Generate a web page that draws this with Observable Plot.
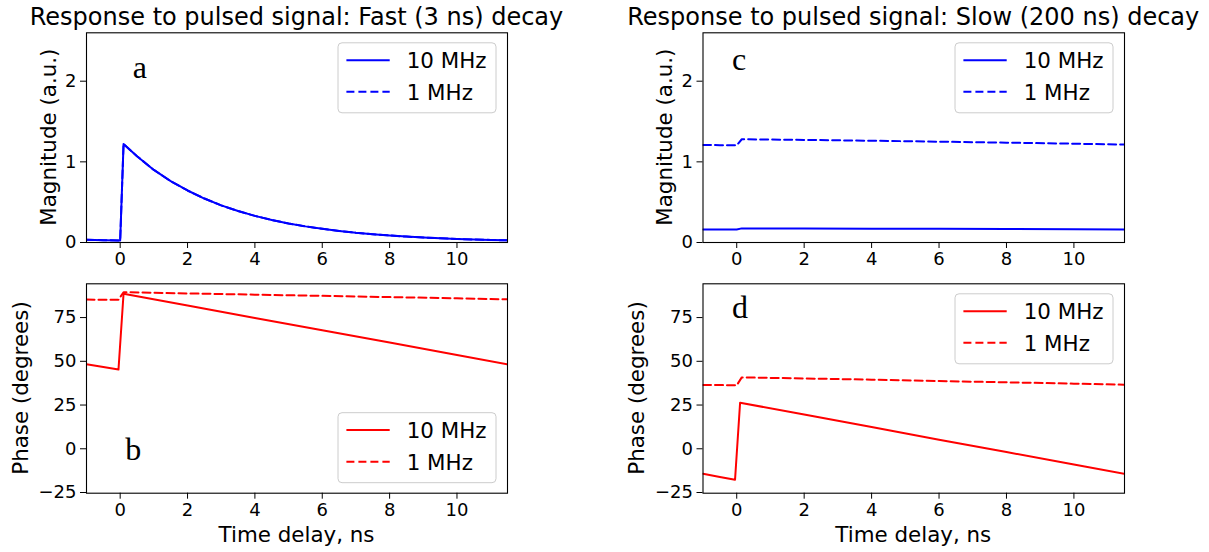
<!DOCTYPE html>
<html><head><meta charset="utf-8">
<script src="https://cdn.jsdelivr.net/npm/d3@7"></script>
<script src="https://cdn.jsdelivr.net/npm/@observablehq/plot@0.6"></script>
<style>
body{margin:0;background:#fff;}
#fig{position:relative;width:1209px;height:552px;overflow:hidden;background:#fff;}
#fig svg{position:absolute;}
</style></head><body><div id="fig"></div>
<script>
// ---- data ----
const xDomain = [-1, 11.5];
const xTicks = [0, 2, 4, 6, 8, 10];
const magDomain = [0, 2.6];
const magTicks = [0, 1, 2];
const phaseDomain = [-25.4, 94.3];
const phaseTicks = [-25, 0, 25, 50, 75];
const seriesNames = ["10 MHz", "1 MHz"];
const panelTitles = ["Response to pulsed signal: Fast (3 ns) decay", "Response to pulsed signal: Slow (200 ns) decay"];
const panelLetters = ["a", "b", "c", "d"];
const magLabel = "Magnitude (a.u.)";
const phaseLabel = "Phase (degrees)";
const timeLabel = "Time delay, ns";

// fast (3 ns) decay, magnitude
const fastTime = [-1, -0.5, 0, 0.1, 0.5, 1, 1.5, 2, 2.5, 3, 3.5, 4, 4.5, 5, 5.5, 6, 6.5, 7, 7.5, 8, 8.5, 9, 9.5, 10, 10.5, 11, 11.5];
const fastMag10 = [0.034, 0.029, 0.025, 1.22, 1.07, 0.90, 0.76, 0.645, 0.545, 0.46, 0.39, 0.33, 0.28, 0.235, 0.20, 0.17, 0.143, 0.12, 0.102, 0.087, 0.073, 0.062, 0.052, 0.044, 0.037, 0.032, 0.027];
const fastMag1 = [0.034, 0.029, 0.025, 1.22, 1.07, 0.90, 0.76, 0.645, 0.545, 0.46, 0.39, 0.33, 0.28, 0.235, 0.20, 0.17, 0.143, 0.12, 0.102, 0.087, 0.073, 0.062, 0.052, 0.044, 0.037, 0.032, 0.027];

// fast (3 ns) decay, phase
const phaseTime = [-1, -0.5, -0.05, 0.1, 2, 4, 6, 8, 10, 11.5];
const fastPhase10 = [48.3, 46.7, 45.3, 88.6, 81.9, 74.8, 67.8, 60.7, 53.6, 48.3];
const fastPhase1 = [85.3, 85.2, 85.2, 89.5, 88.8, 88.1, 87.4, 86.7, 86.0, 85.4];

// slow (200 ns) decay
const slowTime = [-1, -0.5, 0, 0.15, 2, 4, 6, 8, 10, 11.5];
const slowMag10 = [0.16, 0.16, 0.16, 0.175, 0.174, 0.172, 0.17, 0.167, 0.164, 0.162];
const slowMag1 = [1.21, 1.207, 1.205, 1.28, 1.272, 1.262, 1.25, 1.238, 1.225, 1.214];
const slowPhase10Time = [-1, -0.5, -0.05, 0.1, 2, 4, 6, 8, 10, 11.5];
const slowPhase10 = [-14.3, -16.1, -17.7, 26.3, 19.6, 12.4, 5.2, -1.9, -9.0, -14.3];
const slowPhase1 = [36.4, 36.4, 36.3, 40.8, 40.2, 39.5, 38.7, 38.0, 37.2, 36.6];

// ---- drawing ----
const FONT = "'DejaVu Sans', sans-serif";
const fig = document.getElementById("fig");
const rows = (t, v) => t.map((x, i) => ({t: x, v: v[i]}));
const fmt = d3.format("d");

function makePanel(cfg) {
  const {left, top, width, height, m, yDomain, yTicks, color, solid, dashed, legendAt, title, ylabel, ylabelOffset, xlabel, letter, letterOffset} = cfg;
  const plot = Plot.plot({
    width, height,
    marginTop: m[0], marginRight: m[1], marginBottom: m[2], marginLeft: m[3],
    style: {fontFamily: FONT, fontSize: "18px", color: "black", background: "transparent", overflow: "visible"},
    x: {domain: xDomain, ticks: xTicks, tickFormat: fmt, tickSize: 6, tickPadding: 4, label: null},
    y: {domain: yDomain, ticks: yTicks, tickFormat: fmt, tickSize: 6, tickPadding: 4, label: null},
    marks: [
      Plot.line(dashed, {x: "t", y: "v", stroke: color, strokeWidth: 2, strokeDasharray: "8,4", clip: true}),
      Plot.line(solid, {x: "t", y: "v", stroke: color, strokeWidth: 2, clip: true}),
      Plot.frame({stroke: "black", strokeWidth: 1.1})
    ]
  });
  plot.style.left = left + "px";
  plot.style.top = top + "px";
  fig.appendChild(plot);
  const svg = d3.select(plot);
  const fx0 = m[3], fx1 = width - m[1], fy0 = m[0], fy1 = height - m[2];
  const cx = (fx0 + fx1) / 2, cy = (fy0 + fy1) / 2;

  if (title) svg.append("text").attr("x", cx).attr("y", 24.5).attr("text-anchor", "middle")
    .attr("font-family", FONT).attr("font-size", 24).attr("fill", "black").text(title);
  svg.append("text").attr("transform", `translate(${fx0 - ylabelOffset},${cy}) rotate(-90)`)
    .attr("text-anchor", "middle").attr("font-family", FONT).attr("font-size", 21.4).attr("fill", "black").text(ylabel);
  if (xlabel) svg.append("text").attr("x", cx).attr("y", height - 9.7).attr("text-anchor", "middle")
    .attr("font-family", FONT).attr("font-size", 21.4).attr("fill", "black").text(xlabel);

  svg.append("text").attr("x", fx0 + letterOffset[0])
    .attr("y", letterOffset[1] >= 0 ? fy0 + letterOffset[1] : fy1 + letterOffset[1])
    .attr("text-anchor", "start")
    .attr("font-family", "'Liberation Serif', 'Times New Roman', serif").attr("font-size", 32).attr("fill", "black").text(letter);

  // legend
  const bw = 158, bh = 70;
  const bx = fx1 - 11 - bw;
  const by = legendAt === "top" ? fy0 + 10.5 : fy1 - 10 - bh;
  const g = svg.append("g");
  g.append("rect").attr("x", bx).attr("y", by).attr("width", bw).attr("height", bh).attr("rx", 4)
    .attr("fill", "white").attr("fill-opacity", 0.8).attr("stroke", "#cccccc").attr("stroke-width", 1);
  seriesNames.forEach((name, i) => {
    const ly = by + 17.4 + i * 31.6;
    g.append("line").attr("x1", bx + 8.4).attr("x2", bx + 51.7).attr("y1", ly).attr("y2", ly)
      .attr("stroke", color).attr("stroke-width", 2).attr("stroke-dasharray", i === 1 ? "8,4" : null);
    g.append("text").attr("x", bx + 68.7).attr("y", by + 25.5 + i * 31.7).attr("text-anchor", "start")
      .attr("font-family", FONT).attr("font-size", 21.4).attr("fill", "black").text(name);
  });
}

const topM = [32.3, 0, 34, 0], botM = [7.3, 0, 59.3, 0];
const leftCol = {left: 0, width: 604, ml: 86, mr: 97};
const rightCol = {left: 604, width: 605, ml: 98.5, mr: 85};

makePanel({left: 0, top: 0, width: leftCol.width, height: 276, m: [topM[0], leftCol.mr, topM[2], leftCol.ml],
  yDomain: magDomain, yTicks: magTicks, color: "#0000ff",
  solid: rows(fastTime, fastMag10), dashed: rows(fastTime, fastMag1), legendAt: "top",
  title: panelTitles[0], ylabel: magLabel, ylabelOffset: 30.5, letter: panelLetters[0], letterOffset: [46.7, 46]});
makePanel({left: 0, top: 276, width: leftCol.width, height: 276, m: [botM[0], leftCol.mr, botM[2], leftCol.ml],
  yDomain: phaseDomain, yTicks: phaseTicks, color: "#ff0000",
  solid: rows(phaseTime, fastPhase10), dashed: rows(phaseTime, fastPhase1), legendAt: "bottom",
  ylabel: phaseLabel, ylabelOffset: 58.3, xlabel: timeLabel, letter: panelLetters[1], letterOffset: [39.3, -32.7]});
makePanel({left: 604, top: 0, width: rightCol.width, height: 276, m: [topM[0], rightCol.mr, topM[2], rightCol.ml],
  yDomain: magDomain, yTicks: magTicks, color: "#0000ff",
  solid: rows(slowTime, slowMag10), dashed: rows(slowTime, slowMag1), legendAt: "top",
  title: panelTitles[1], ylabel: magLabel, ylabelOffset: 30.5, letter: panelLetters[2], letterOffset: [29.5, 37.7]});
makePanel({left: 604, top: 276, width: rightCol.width, height: 276, m: [botM[0], rightCol.mr, botM[2], rightCol.ml],
  yDomain: phaseDomain, yTicks: phaseTicks, color: "#ff0000",
  solid: rows(slowPhase10Time, slowPhase10), dashed: rows(slowTime, slowPhase1), legendAt: "top",
  ylabel: phaseLabel, ylabelOffset: 58.5, xlabel: timeLabel, letter: panelLetters[3], letterOffset: [29.5, 34.4]});
</script></body></html>
